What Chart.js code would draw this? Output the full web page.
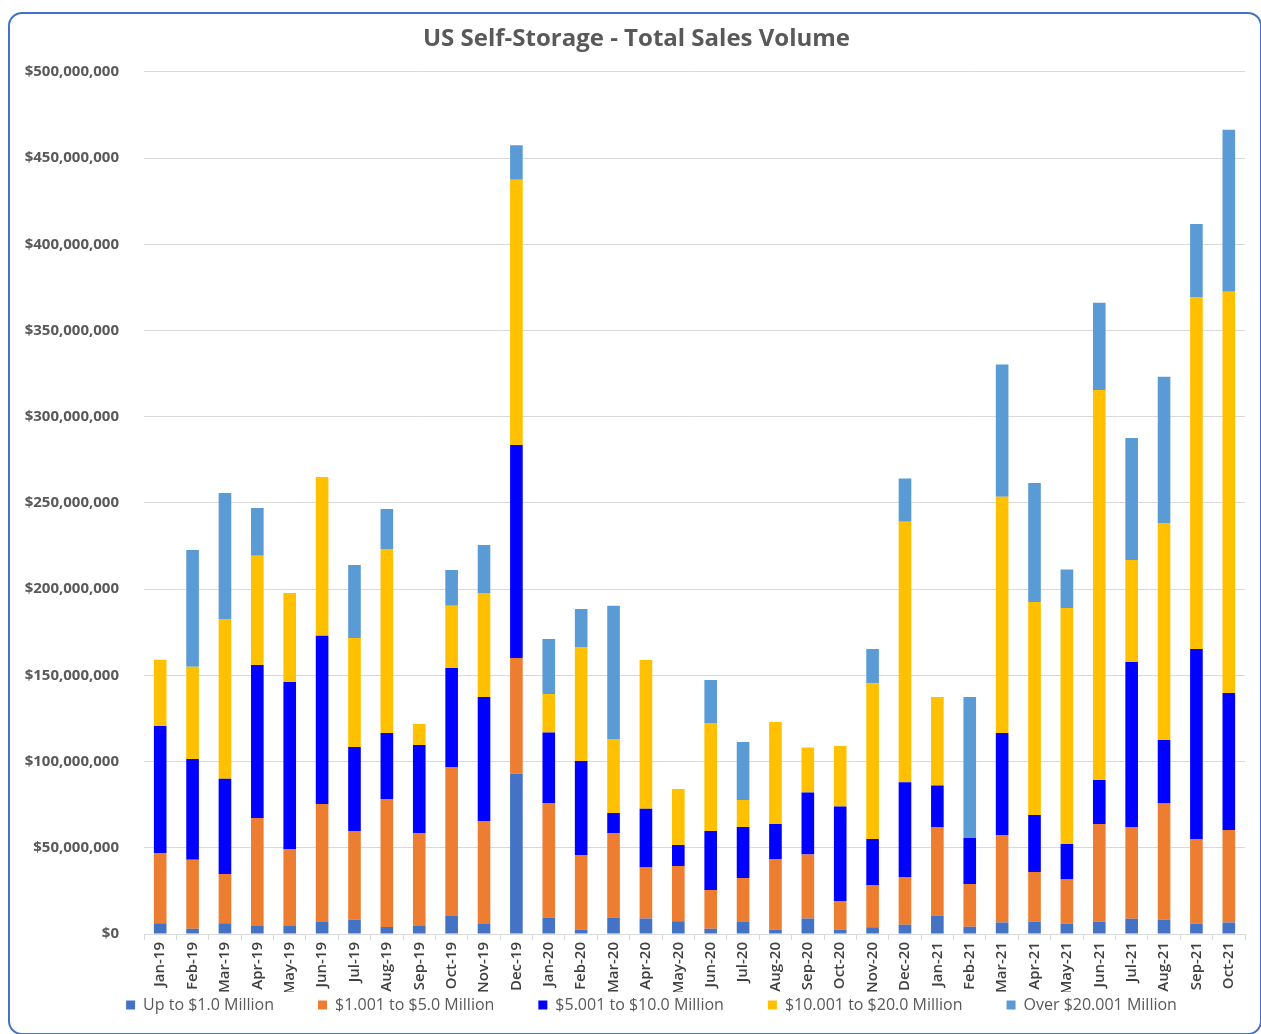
<!DOCTYPE html>
<html>
<head>
<meta charset="utf-8">
<script src="https://cdn.jsdelivr.net/npm/chart.js@4/dist/chart.umd.min.js"></script>
<style>
  html, body { margin: 0; padding: 0; background: #ffffff; }
  body { width: 1261px; height: 1034px; position: relative; overflow: hidden; }
  #frame { position: absolute; left: 8px; top: 12px; width: 1250px; height: 1019px;
           border: 2px solid #4472C4; border-radius: 14px; box-sizing: content-box; }
  #c { position: absolute; left: 0; top: 0; }
</style>
</head>
<body>
<div id="frame"></div>
<canvas id="c" width="1261" height="1034"></canvas>
<script>
// Values in millions of US dollars
const categories = ["Jan-19","Feb-19","Mar-19","Apr-19","May-19","Jun-19","Jul-19","Aug-19","Sep-19","Oct-19","Nov-19","Dec-19",
  "Jan-20","Feb-20","Mar-20","Apr-20","May-20","Jun-20","Jul-20","Aug-20","Sep-20","Oct-20","Nov-20","Dec-20",
  "Jan-21","Feb-21","Mar-21","Apr-21","May-21","Jun-21","Jul-21","Aug-21","Sep-21","Oct-21"];

const upTo1M = [6.3,3.1,6.3,4.6,4.6,7,8.2,4,4.6,10.5,5.8,93,
  9.6,2.5,9.6,9,7.4,3,6.9,2.5,9,2.5,3.9,5.3,
  10.8,4.2,6.6,7.1,5.9,7.1,8.8,8.2,5.9,6.6];
const from1to5M = [40.7,39.9,28.5,62.7,44.7,68.4,51.5,74.3,54,86.4,59.7,67,
  66.4,43.3,49,29.6,32,22.5,25.6,41,37.1,16.6,24.5,27.7,
  51,24.8,50.8,28.9,25.7,56.7,53.2,67.5,49.2,53.7];
const from5to10M = [73.6,58.5,55.2,88.7,96.9,97.5,48.8,38.3,51,57.4,72,123.6,
  40.8,54.5,11.6,34.1,12.2,34.2,29.6,20.3,36,54.9,26.7,55,
  24.3,26.7,59.2,33,20.6,25.5,95.8,36.8,110.2,79.5];
const from10to20M = [38.4,53.5,92.7,63.3,51.6,92.1,63.2,106.7,12.2,36,60.3,153.8,
  22.4,66.2,42.9,86.2,32.5,62.7,15.6,59.2,26,35,90.2,151,
  51.4,0,136.9,123.6,136.9,226.2,59.1,125.9,203.8,232.6];
const over20M = [0,67.7,73.1,27.7,0,0,42.3,23.2,0,20.8,27.8,20,
  31.9,22,77.2,0,0,24.9,33.7,0,0,0,20,25.2,
  0,81.8,76.8,69,22.3,50.5,70.8,84.7,42.7,94];

const seriesNames = ["Up to $1.0 Million","$1.001 to $5.0 Million","$5.001 to $10.0 Million","$10.001 to $20.0 Million","Over $20.001 Million"];
const seriesValues = [upTo1M, from1to5M, from5to10M, from10to20M, over20M];
const seriesColors = ["#4472C4","#ED7D31","#0000FF","#FFC000","#5B9BD5"];

const yMin = 0, yMax = 500, yStep = 50;
const titleText = "US Self-Storage - Total Sales Volume";

const layoutFix = {
  id: 'layoutFix',
  beforeLayout(chart) {
    const lg = chart.legend;
    if (lg && !lg._patched) {
      const orig = lg.fit.bind(lg);
      lg.fit = function () { orig(); this.height = 42; };
      lg._patched = true;
    }
  },
  afterLayout(chart) {
    const lg = chart.legend;
    if (lg) {
      const pad = lg.options.labels.padding;
      const fs = lg.options.labels.font.size;
      lg.top = 1005 - fs / 2 - pad;
      lg.bottom = chart.height;
      lg.height = lg.bottom - lg.top;
      lg.left += 29; lg.right += 29;
    }
    const tb = chart.titleBlock;
    if (tb) { tb.left += 14; tb.right += 14; }
  }
};

new Chart(document.getElementById('c'), {
  type: 'bar',
  data: {
    labels: categories,
    datasets: seriesNames.map((n, i) => ({
      label: n,
      data: seriesValues[i],
      backgroundColor: seriesColors[i],
      borderWidth: 0,
      barPercentage: 0.39,
      categoryPercentage: 1.0
    }))
  },
  options: {
    responsive: false,
    animation: false,
    layout: { padding: { left: 0, right: 16, top: 0, bottom: 0 } },
    plugins: {
      title: {
        display: true,
        text: titleText,
        color: '#595959',
        font: { family: "'Open Sans'", size: 24, weight: 'bold', lineHeight: 1.2 },
        padding: { top: 25, bottom: 18 }
      },
      legend: {
        position: 'bottom',
        labels: {
          boxWidth: 9, boxHeight: 9, padding: 44,
          color: '#595959',
          font: { family: "'Open Sans'", size: 16 }
        }
      },
      tooltip: { enabled: false }
    },
    scales: {
      x: {
        stacked: true,
        afterFit(s) { s.height = 58; },
        grid: { display: true, drawOnChartArea: false, drawTicks: true, tickLength: 6, color: '#d9d9d9', offset: true },
        border: { display: true, color: '#d9d9d9', width: 1 },
        ticks: {
          autoSkip: false, minRotation: 90, maxRotation: 90, padding: 2,
          color: '#404040',
          font: { family: "'Open Sans'", size: 15, weight: '600' }
        }
      },
      y: {
        stacked: true,
        min: yMin, max: yMax,
        afterFit(s) { s.width = 144; },
        grid: { color: '#d9d9d9', drawTicks: false },
        border: { display: false },
        ticks: {
          stepSize: yStep, padding: 25,
          color: '#595959',
          font: { family: "'Open Sans'", size: 15, weight: 'bold' },
          callback: (v) => '$' + Math.round(v * 1e6).toLocaleString('en-US')
        }
      }
    }
  },
  plugins: [layoutFix]
});
</script>
</body>
</html>
